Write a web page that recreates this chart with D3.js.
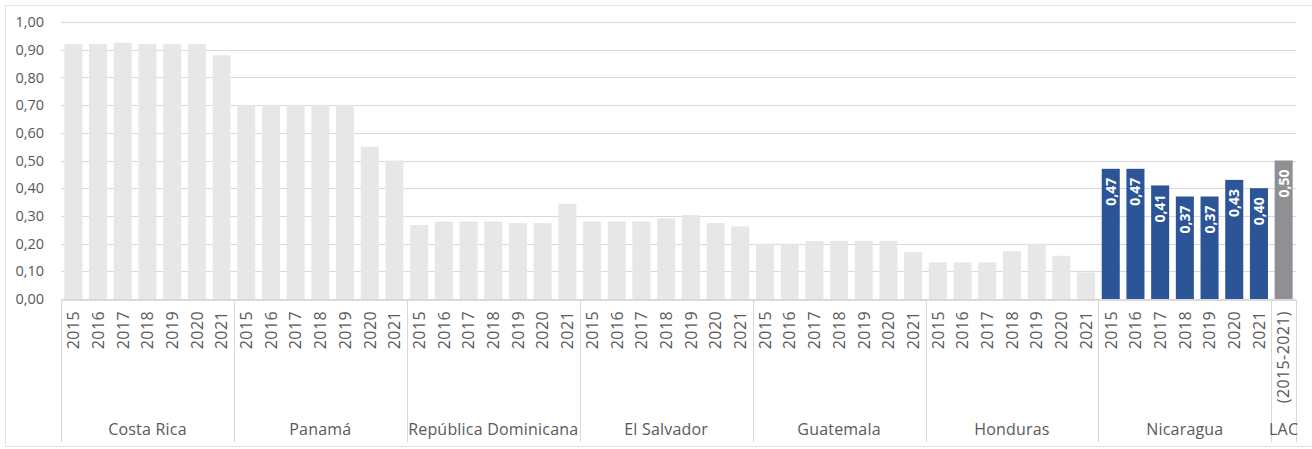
<!DOCTYPE html>
<html>
<head>
<meta charset="utf-8">
<script src="https://cdn.jsdelivr.net/npm/d3@7"></script>
<style>
  html, body { margin: 0; padding: 0; background: #fff; }
  svg { display: block; font-family: "Open Sans", "Noto Sans", sans-serif; }
</style>
</head>
<body>
<svg id="chart" width="1312" height="449"></svg>
<script>
// Index values by country and year
const countries = ["Costa Rica", "Panamá", "República Dominicana", "El Salvador", "Guatemala", "Honduras", "Nicaragua"];
const years = ["2015", "2016", "2017", "2018", "2019", "2020", "2021"];
const costaRica   = [0.92, 0.92, 0.925, 0.92, 0.92, 0.92, 0.88];
const panama      = [0.70, 0.70, 0.70, 0.70, 0.70, 0.55, 0.50];
const republicaDominicana = [0.267, 0.28, 0.28, 0.28, 0.274, 0.274, 0.344];
const elSalvador  = [0.28, 0.28, 0.28, 0.291, 0.303, 0.274, 0.262];
const guatemala   = [0.20, 0.20, 0.209, 0.21, 0.21, 0.21, 0.169];
const honduras    = [0.132, 0.132, 0.132, 0.173, 0.20, 0.156, 0.096];
const nicaragua   = [0.47, 0.47, 0.41, 0.37, 0.37, 0.43, 0.40];
const lacLabel = "LAC";
const lacPeriod = "(2015-2021)";
const lacValue = [0.50];
const yTicks = [0, 0.1, 0.2, 0.3, 0.4, 0.5, 0.6, 0.7, 0.8, 0.9, 1.0];

const seriesByCountry = [costaRica, panama, republicaDominicana, elSalvador, guatemala, honduras, nicaragua];

// Flat list of bars
const bars = [];
countries.forEach((c, ci) => {
  years.forEach((yr, yi) => {
    bars.push({ key: c + "|" + yr, country: c, year: yr, value: seriesByCountry[ci][yi],
                kind: c === "Nicaragua" ? "focus" : "other" });
  });
});
bars.push({ key: lacLabel + "|" + lacPeriod, country: lacLabel, year: lacPeriod, value: lacValue[0], kind: "lac" });

const colors = { other: "#e7e7e7", focus: "#2c5598", lac: "#8f9094" };
const textColor = "#595959";
const gridColor = "#d9d9d9";

const svg = d3.select("#chart");
const plotLeft = 61, plotRight = 1296, plotTop = 22, plotBottom = 299;

// outer frame
svg.append("rect")
  .attr("x", 5.5).attr("y", 5.5).attr("width", 1320).attr("height", 441)
  .attr("fill", "none").attr("stroke", "#e3e3e3").attr("stroke-width", 1);

const x = d3.scaleBand().domain(bars.map(d => d.key)).range([plotLeft, plotRight]).paddingInner(0.27).paddingOuter(0.135);
const y = d3.scaleLinear().domain([0, 1]).range([plotBottom, plotTop]);

// gridlines
svg.append("g").selectAll("line").data(yTicks).join("line")
  .attr("x1", plotLeft).attr("x2", plotRight)
  .attr("y1", d => Math.round(y(d)) + 0.5).attr("y2", d => Math.round(y(d)) + 0.5)
  .attr("stroke", gridColor).attr("stroke-width", 1);

// y-axis labels
const yAxis = d3.axisLeft(y).tickValues(yTicks).tickSize(0).tickPadding(0)
  .tickFormat(d => d3.format(".2f")(d).replace(".", ","));
const gy = svg.append("g").attr("transform", `translate(44,0)`).call(yAxis);
gy.select(".domain").remove();
gy.selectAll("text").attr("fill", textColor).style("font-size", "14.5px")
  .style("font-family", "'Open Sans', sans-serif");

// bars
svg.append("g").selectAll("rect").data(bars).join("rect")
  .attr("x", d => x(d.key))
  .attr("width", x.bandwidth())
  .attr("y", d => y(d.value))
  .attr("height", d => y(0) - y(d.value))
  .attr("fill", d => colors[d.kind]);

// value labels on Nicaragua and LAC bars
const labeled = bars.filter(d => d.kind !== "other");
svg.append("g").selectAll("text").data(labeled).join("text")
  .attr("transform", d => `translate(${x(d.key) + x.bandwidth() / 2 + 5},${y(d.value) + 9}) rotate(-90)`)
  .attr("text-anchor", "end")
  .attr("fill", "#fff")
  .style("font-weight", "bold")
  .style("font-size", "14px")
  .text(d => d3.format(".2f")(d.value).replace(".", ","));

// x axis line
svg.append("line").attr("x1", plotLeft).attr("x2", plotRight).attr("y1", plotBottom + 1.5).attr("y2", plotBottom + 1.5)
  .attr("stroke", gridColor);

// year labels (rotated)
const xAxis = d3.axisBottom(x).tickSize(0).tickPadding(0).tickFormat(k => k.split("|")[1]);
const gx = svg.append("g").attr("transform", `translate(0,${plotBottom})`).call(xAxis);
gx.select(".domain").remove();
gx.selectAll("text")
  .attr("transform", "rotate(-90)")
  .attr("x", -12).attr("y", 0).attr("dy", "0.36em")
  .attr("text-anchor", "end")
  .attr("fill", textColor)
  .style("font-size", "16px")
  .style("letter-spacing", "0.4px")
  .style("font-family", "'Open Sans', sans-serif");

// group boundaries and names
const groups = countries.concat([lacLabel]);
const step = x.step();
const groupExtent = g => {
  const ks = bars.filter(d => d.country === g).map(d => d.key);
  const x0 = x(ks[0]) - step * x.paddingInner() / 2;
  const x1 = x(ks[ks.length - 1]) + x.bandwidth() + step * x.paddingInner() / 2;
  return [x0, x1];
};
const edges = [];
groups.forEach(g => { const e = groupExtent(g); edges.push(e[0]); });
edges.push(groupExtent(lacLabel)[1]);
svg.append("g").selectAll("line").data(edges).join("line")
  .attr("x1", d => Math.round(d) + 0.5).attr("x2", d => Math.round(d) + 0.5)
  .attr("y1", plotBottom + 1).attr("y2", 442)
  .attr("stroke", gridColor).attr("stroke-width", 1);

svg.append("g").selectAll("text").data(groups).join("text")
  .attr("x", g => { const e = groupExtent(g); return (e[0] + e[1]) / 2; })
  .attr("y", 435)
  .attr("text-anchor", "middle")
  .attr("fill", textColor)
  .style("font-size", "16px")
  .style("letter-spacing", "0.2px")
  .text(g => g);
</script>
</body>
</html>
